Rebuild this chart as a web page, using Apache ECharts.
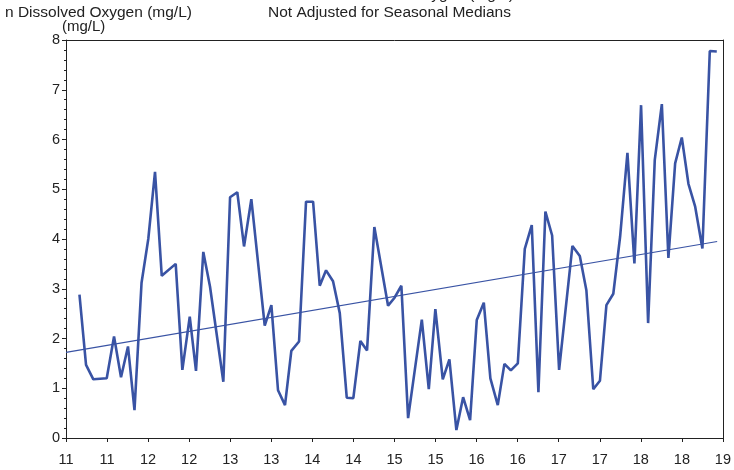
<!DOCTYPE html>
<html>
<head>
<meta charset="utf-8">
<script src="https://cdn.jsdelivr.net/npm/echarts@6/dist/echarts.min.js"></script>
<style>
html, body { margin: 0; padding: 0; background: #fff; }
#chart { width: 734px; height: 470px; }
</style>
</head>
<body>
<div id="chart"></div>
<script>
// sample dates (decimal year, 2-digit) and monthly median DO values
var years = [11.164, 11.244, 11.333, 11.496, 11.585, 11.670, 11.755, 11.834, 11.920, 12.002,
  12.084, 12.166, 12.336, 12.417, 12.507, 12.583, 12.672, 12.754, 12.916, 12.998,
  13.086, 13.168, 13.257, 13.420, 13.501, 13.582, 13.667, 13.744, 13.838, 13.923,
  14.009, 14.090, 14.167, 14.252, 14.334, 14.419, 14.499, 14.585, 14.666, 14.755,
  14.922, 15.001, 15.084, 15.166, 15.333, 15.418, 15.498, 15.588, 15.669, 15.754,
  15.836, 15.921, 16.002, 16.088, 16.168, 16.258, 16.339, 16.417, 16.502, 16.587,
  16.672, 16.753, 16.838, 16.920, 17.005, 17.167, 17.257, 17.337, 17.421, 17.502,
  17.581, 17.665, 17.748, 17.837, 17.922, 18.003, 18.089, 18.170, 18.256, 18.336,
  18.418, 18.499, 18.580, 18.662, 18.750, 18.840, 18.925];
var oxygen = [2.88, 1.47, 1.18, 1.20, 2.04, 1.22, 1.84, 0.56, 3.12, 4.00,
  5.35, 3.26, 3.50, 1.37, 2.44, 1.35, 3.74, 3.04, 1.13, 4.84,
  4.94, 3.85, 4.80, 2.26, 2.67, 0.96, 0.66, 1.75, 1.94, 4.75,
  4.75, 3.06, 3.37, 3.15, 2.51, 0.81, 0.80, 1.95, 1.76, 4.24,
  2.66, 2.82, 3.06, 0.40, 2.38, 0.98, 2.59, 1.18, 1.58, 0.16,
  0.82, 0.36, 2.37, 2.72, 1.20, 0.66, 1.49, 1.36, 1.50, 3.80,
  4.28, 0.92, 4.55, 4.07, 1.37, 3.86, 3.66, 2.97, 0.98, 1.15,
  2.67, 2.90, 4.05, 5.73, 3.51, 6.69, 2.31, 5.59, 6.71, 3.62,
  5.52, 6.04, 5.11, 4.65, 3.81, 7.78, 7.77];
// trend line end points
var trendYears = [11.0, 18.93];
var trendValues = [1.72, 3.95];

var font = "'Liberation Sans', Arial, sans-serif";
var blue = '#3953a4';

var chart = echarts.init(document.getElementById('chart'));
chart.setOption({
  animation: false,
  backgroundColor: '#fff',
  textStyle: { fontFamily: font },
  grid: { left: 66, right: 9, top: 40, bottom: 32 },
  graphic: [
    { type: 'text', left: 5, top: 5,
      style: { text: 'n Dissolved Oxygen (mg/L)', font: '15.5px ' + font, fill: '#222' } },
    { type: 'text', left: 62, top: 19,
      style: { text: '(mg/L)', font: '15px ' + font, fill: '#222' } },
    { type: 'text', left: 268, top: 5,
      style: { text: 'Not Adjusted for Seasonal Medians', font: '15.5px ' + font, fill: '#222' } },
    { type: 'text', left: 340, top: -13,
      style: { text: 'Dissolved Oxygen (mg/L)', font: '15.5px ' + font, fill: '#222' } }
  ],
  xAxis: [{
    type: 'value', min: 11, max: 19, interval: 0.5, offset: 6,
    splitLine: { show: false },
    axisLine: { lineStyle: { color: '#222', width: 1 } },
    axisTick: { length: 4, lineStyle: { color: '#222' } },
    axisLabel: { fontSize: 14.5, color: '#222', margin: 8,
      formatter: function (v) { return String(Math.floor(v + 1e-9)); } }
  }, {
    type: 'value', position: 'top', min: 11, max: 19,
    splitLine: { show: false },
    axisLine: { show: true, onZero: false, lineStyle: { color: '#222', width: 1 } },
    axisTick: { show: false }, axisLabel: { show: false }
  }],
  yAxis: [{
    type: 'value', min: 0, max: 8, interval: 1,
    splitLine: { show: false },
    axisLine: { show: true, lineStyle: { color: '#222', width: 1 } },
    axisTick: { show: true, length: 4, lineStyle: { color: '#222' } },
    minorTick: { show: true, splitNumber: 5, length: 2, lineStyle: { color: '#222' } },
    axisLabel: { fontSize: 14.5, color: '#222', margin: 6 }
  }, {
    type: 'value', position: 'right', min: 0, max: 8,
    splitLine: { show: false },
    axisLine: { show: true, onZero: false, lineStyle: { color: '#222', width: 1 } },
    axisTick: { show: false }, axisLabel: { show: false }
  }],
  series: [{
    type: 'line', name: 'Dissolved Oxygen',
    data: years.map(function (y, i) { return [y, oxygen[i]]; }),
    showSymbol: false,
    lineStyle: { color: blue, width: 2.6 },
    itemStyle: { color: blue }
  }, {
    type: 'line', name: 'Trend',
    data: trendYears.map(function (y, i) { return [y, trendValues[i]]; }),
    showSymbol: false,
    lineStyle: { color: blue, width: 1.2 },
    itemStyle: { color: blue }
  }]
});
</script>
</body>
</html>
